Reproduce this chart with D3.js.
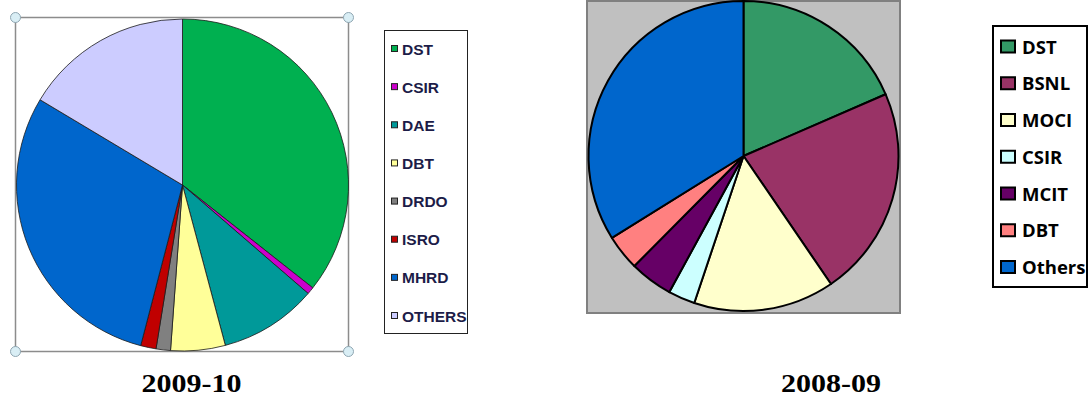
<!DOCTYPE html>
<html>
<head>
<meta charset="utf-8">
<script src="https://cdn.jsdelivr.net/npm/d3@7"></script>
<style>
  body { margin: 0; background: #fff; }
  svg { display: block; }
</style>
</head>
<body>
<div id="chart"></div>
<script>
// 2009-10 shares (%)
const labels0910 = ["DST", "CSIR", "DAE", "DBT", "DRDO", "ISRO", "MHRD", "OTHERS"];
const values0910 = [35.6, 0.7, 9.5, 5.3, 1.4, 1.5, 29.5, 16.4];
const colors0910 = ["#00B050", "#CC00CC", "#009999", "#FFFF99", "#808080", "#C00000", "#0066CC", "#CCCCFF"];

// 2008-09 shares (%)
const labels0809 = ["DST", "BSNL", "MOCI", "CSIR", "MCIT", "DBT", "Others"];
const values0809 = [18.5, 22.0, 14.7, 2.8, 4.5, 3.7, 33.9];
const colors0809 = ["#339966", "#993366", "#FFFFCC", "#CCFFFF", "#660066", "#FF8080", "#0066CC"];

const titles = ["2009-10", "2008-09"];

const width = 1092, height = 403;
const svg = d3.select("#chart").append("svg")
    .attr("width", width)
    .attr("height", height);

const pie = d3.pie().sort(null).value(d => d.value);

// ---- left chart (2009-10) ----
const left = svg.append("g");
// selection frame with corner handles
left.append("rect")
    .attr("x", 15.5).attr("y", 17.5)
    .attr("width", 333).attr("height", 334)
    .attr("fill", "none")
    .attr("stroke", "#8c8c8c")
    .attr("stroke-width", 1.5);

const data0910 = labels0910.map((k, i) => ({ key: k, value: values0910[i], color: colors0910[i] }));
const arcL = d3.arc().innerRadius(0).outerRadius(166);
left.append("g")
    .attr("transform", "translate(182.5,185)")
    .selectAll("path")
    .data(pie(data0910))
    .join("path")
    .attr("d", arcL)
    .attr("fill", d => d.data.color)
    .attr("stroke", "#1a1a1a")
    .attr("stroke-width", 0.8)
    .attr("stroke-linejoin", "round");

[[15.5, 17.5], [348.5, 17.5], [15.5, 351.5], [348.5, 351.5]].forEach(p => {
    left.append("circle")
        .attr("cx", p[0]).attr("cy", p[1]).attr("r", 5)
        .attr("fill", "#d9eef5")
        .attr("stroke", "#8fa6b2")
        .attr("stroke-width", 1);
});

// legend
const legL = left.append("g").attr("transform", "translate(384,30)");
legL.append("rect")
    .attr("x", 0.5).attr("y", 0.5)
    .attr("width", 83).attr("height", 303)
    .attr("fill", "#fff")
    .attr("stroke", "#222")
    .attr("stroke-width", 1);
const yL = d3.scalePoint().domain(labels0910).range([19, 286]);
const itemL = legL.selectAll("g.item")
    .data(data0910)
    .join("g")
    .attr("class", "item")
    .attr("transform", d => `translate(0,${yL(d.key)})`);
itemL.append("rect")
    .attr("x", 7.5).attr("y", -3.5)
    .attr("width", 6).attr("height", 6)
    .attr("fill", d => d.color)
    .attr("stroke", "#222")
    .attr("stroke-width", 1);
itemL.append("text")
    .attr("x", 18).attr("y", 5.5)
    .text(d => d.key)
    .attr("font-family", "'Liberation Sans', Arimo, Arial, sans-serif")
    .attr("font-weight", "bold")
    .attr("font-size", 15.5)
    .attr("fill", "#1c1c48");

left.append("text")
    .attr("x", 191.5).attr("y", 391.5)
    .attr("text-anchor", "middle")
    .attr("textLength", 100)
    .attr("lengthAdjust", "spacingAndGlyphs")
    .text(titles[0])
    .attr("font-family", "'Liberation Serif', Tinos, 'Times New Roman', serif")
    .attr("font-weight", "bold")
    .attr("font-size", 25);

// ---- right chart (2008-09) ----
const right = svg.append("g");
right.append("rect")
    .attr("x", 587).attr("y", 1)
    .attr("width", 313).attr("height", 312)
    .attr("fill", "#C0C0C0")
    .attr("stroke", "#808080")
    .attr("stroke-width", 2);

const data0809 = labels0809.map((k, i) => ({ key: k, value: values0809[i], color: colors0809[i] }));
const arcR = d3.arc().innerRadius(0).outerRadius(155);
right.append("g")
    .attr("transform", "translate(743.5,156)")
    .selectAll("path")
    .data(pie(data0809))
    .join("path")
    .attr("d", arcR)
    .attr("fill", d => d.data.color)
    .attr("stroke", "#000")
    .attr("stroke-width", 2)
    .attr("stroke-linejoin", "round");

const legR = right.append("g").attr("transform", "translate(992,25)");
legR.append("rect")
    .attr("x", 1).attr("y", 1)
    .attr("width", 94).attr("height", 261)
    .attr("fill", "#fff")
    .attr("stroke", "#000")
    .attr("stroke-width", 2);
const yR = d3.scalePoint().domain(labels0809).range([21.5, 242]);
const itemR = legR.selectAll("g.item")
    .data(data0809)
    .join("g")
    .attr("class", "item")
    .attr("transform", d => `translate(0,${yR(d.key)})`);
itemR.append("rect")
    .attr("x", 9).attr("y", -6)
    .attr("width", 14).attr("height", 12)
    .attr("fill", d => d.color)
    .attr("stroke", "#000")
    .attr("stroke-width", 2);
itemR.append("text")
    .attr("x", 30).attr("y", 7)
    .text(d => d.key)
    .attr("font-family", "'Open Sans', Lato, sans-serif")
    .attr("font-weight", 700)
    .attr("font-size", 18.5)
    .attr("fill", "#000");

right.append("text")
    .attr("x", 831).attr("y", 391.5)
    .attr("text-anchor", "middle")
    .attr("textLength", 100)
    .attr("lengthAdjust", "spacingAndGlyphs")
    .text(titles[1])
    .attr("font-family", "'Liberation Serif', Tinos, 'Times New Roman', serif")
    .attr("font-weight", "bold")
    .attr("font-size", 25);
</script>
</body>
</html>
